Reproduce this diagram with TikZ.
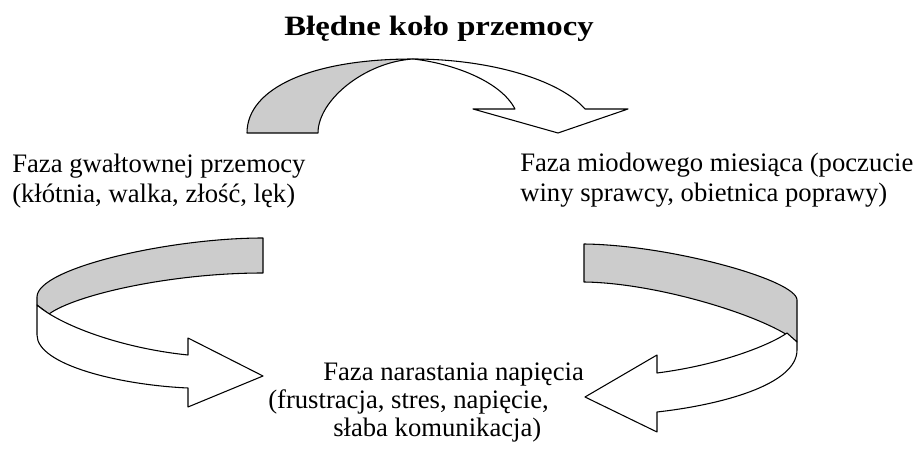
\documentclass[tikz,border=0pt]{standalone}
\usepackage{fontspec}
\usepackage{graphicx}
\setmainfont{Liberation Serif}
\definecolor{backgray}{RGB}{204,204,204}
\begin{document}
\begin{tikzpicture}[x=0.75pt,y=-0.75pt,
  band/.style={draw=black, line width=0.8pt, line join=round},
  backside/.style={band, fill=backgray},
  frontside/.style={band, fill=white},
  lbl/.style={font=\fontsize{20}{22}\selectfont, inner sep=0pt, anchor=base west},
  ttl/.style={font=\bfseries\fontsize{21}{24}\selectfont, inner sep=0pt, anchor=base}]
\useasboundingbox (0,0) rectangle (922,466);

% title
\node[ttl] (title) at (439,36) {\scalebox{1.17}[1]{Błędne koło przemocy}};

% top curved arrow
\path[backside] (247,133) .. controls (247,88) and (312,59) .. (413,59)
  .. controls (365,62) and (318,100) .. (318,133) -- cycle;
\path[frontside] (413,59) .. controls (490,59) and (560,80) .. (585,109)
  -- (628,109) -- (558,133) -- (473,109) -- (515,109)
  .. controls (500,80) and (450,63) .. (413,59) -- cycle;

% left curved arrow
\path[backside] (263,238) .. controls (170,238) and (37,268) .. (37,297)
  -- (37,305) -- (49,314) .. controls (75,295) and (170,273) .. (263,273) -- cycle;
\path[frontside] (37,305) .. controls (60,325) and (120,348) .. (188,355)
  -- (188,338) -- (263,376) -- (188,407) -- (188,388)
  .. controls (120,385) and (37,365) .. (37,335) -- cycle;

% right curved arrow
\path[backside] (584,244) .. controls (670,245) and (797,280) .. (797,300)
  -- (797,342) .. controls (770,318) and (660,283) .. (584,282) -- cycle;
\path[frontside] (657,373) .. controls (720,365) and (770,345) .. (787,333)
  -- (797,342) -- (797,350) .. controls (797,385) and (720,405) .. (657,412)
  -- (657,432) -- (585,397) -- (657,355) -- cycle;

% labels
\node[lbl] (violentA) at (12,173) {Faza gwałtownej przemocy};
\node[lbl] (violentB) at (12,203) {(kłótnia, walka, złość, lęk)};
\node[lbl] (honeyA) at (520,172) {Faza miodowego miesiąca (poczucie};
\node[lbl] (honeyB) at (520,202) {winy sprawcy, obietnica poprawy)};
\node[lbl] (tensionA) at (323,381) {Faza narastania napięcia};
\node[lbl] (tensionB) at (268,409) {(frustracja, stres, napięcie,};
\node[lbl] (tensionC) at (333,437) {słaba komunikacja)};
\end{tikzpicture}
\end{document}
